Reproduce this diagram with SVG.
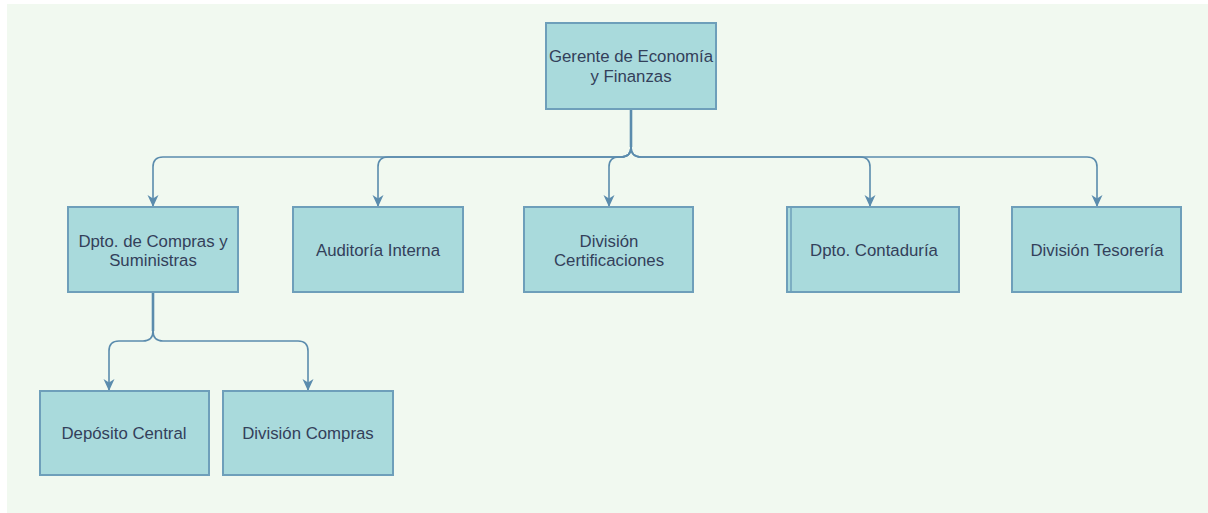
<svg xmlns="http://www.w3.org/2000/svg" width="1208" height="513" viewBox="0 0 1208 513">
  <style>
    .box { fill: #a9dadc; stroke: #6e9fba; stroke-width: 2; }
    .lbl { font-family: "Liberation Sans", Arial, sans-serif; font-size: 16.8px; fill: #33405a; text-anchor: middle; }
    .edge { fill: none; stroke: #5b8cad; stroke-width: 1.6; marker-end: url(#arrow); }
    .trunk { fill: none; stroke: #5b8cad; stroke-width: 2.6; }
  </style>
  <defs>
    <marker id="arrow" markerUnits="userSpaceOnUse" markerWidth="14" markerHeight="14" viewBox="0 0 14 14" refX="13" refY="7" orient="auto">
      <path d="M1,1.5 L13,7 L1,12.5 L4.5,7 z" fill="#5b8cad"/>
    </marker>
  </defs>

  <!-- canvas -->
  <rect x="7" y="4" width="1201" height="509" fill="#f1f9f0"/>

  <!-- connectors -->
  <g id="connectors">
    <path class="edge" d="M631,109 V147 Q631,157 621,157 H163 Q153,157 153,167 V207"/>
    <path class="edge" d="M631,109 V147 Q631,157 621,157 H388 Q378,157 378,167 V207"/>
    <path class="edge" d="M631,109 V147 Q631,157 621,157 H619 Q609,157 609,167 V207"/>
    <path class="edge" d="M631,109 V147 Q631,157 641,157 H860 Q870,157 870,167 V207"/>
    <path class="edge" d="M631,109 V147 Q631,157 641,157 H1087 Q1097,157 1097,167 V207"/>
    <path class="trunk" d="M631,109 V147"/>
    <path class="edge" d="M153,292 V331 Q153,341 143,341 H119 Q109,341 109,351 V391"/>
    <path class="edge" d="M153,292 V331 Q153,341 163,341 H298 Q308,341 308,351 V391"/>
    <path class="trunk" d="M153,292 V331"/>
  </g>

  <g id="gerente">
    <rect class="box" x="546" y="23" width="170" height="86"/>
    <text class="lbl" x="631" y="62">Gerente de Economía</text>
    <text class="lbl" x="631" y="82">y Finanzas</text>
  </g>

  <g id="compras-suministros">
    <rect class="box" x="68" y="207" width="170" height="85"/>
    <text class="lbl" x="153" y="247">Dpto. de Compras y</text>
    <text class="lbl" x="153" y="266">Suministras</text>
  </g>

  <g id="auditoria">
    <rect class="box" x="293" y="207" width="170" height="85"/>
    <text class="lbl" x="378" y="256">Auditoría Interna</text>
  </g>

  <g id="certificaciones">
    <rect class="box" x="524" y="207" width="169" height="85"/>
    <text class="lbl" x="609" y="247">División</text>
    <text class="lbl" x="609" y="266">Certificaciones</text>
  </g>

  <g id="contaduria">
    <rect class="box" x="787" y="207" width="172" height="85"/>
    <line x1="791" y1="207" x2="791" y2="292" stroke="#6e9fba" stroke-width="1.5"/>
    <text class="lbl" x="874" y="256">Dpto. Contaduría</text>
  </g>

  <g id="tesoreria">
    <rect class="box" x="1012" y="207" width="169" height="85"/>
    <text class="lbl" x="1097" y="256">División Tesorería</text>
  </g>

  <g id="deposito">
    <rect class="box" x="40" y="391" width="169" height="84"/>
    <text class="lbl" x="124" y="439">Depósito Central</text>
  </g>

  <g id="division-compras">
    <rect class="box" x="223" y="391" width="170" height="84"/>
    <text class="lbl" x="308" y="439">División Compras</text>
  </g>
</svg>
